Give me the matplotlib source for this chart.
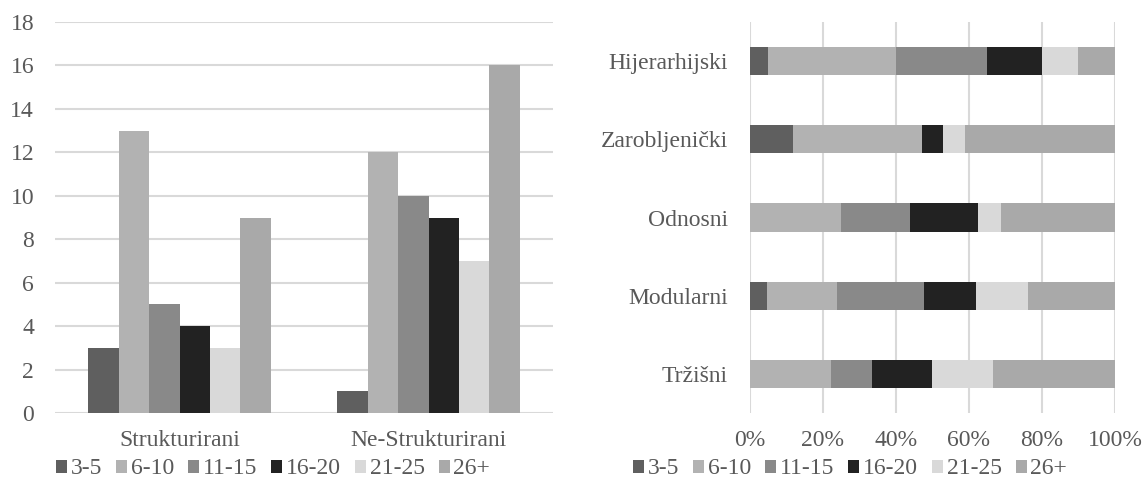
import matplotlib.pyplot as plt
import numpy as np
from matplotlib.patches import Patch

plt.rcParams['font.family'] = ['Liberation Serif', 'DejaVu Serif']

# age groups (series)
groups = ['3-5', '6-10', '11-15', '16-20', '21-25', '26+']
colors = ['#5f5f5f', '#b2b2b2', '#898989', '#222222', '#d9d9d9', '#a9a9a9']

# left chart: counts per group
types = ['Strukturirani', 'Ne-Strukturirani']
strukturirani = [3, 13, 5, 4, 3, 9]
ne_strukturirani = [1, 12, 10, 9, 7, 16]

# right chart: counts per organisation type, shown as shares
org_types = ['Hijerarhijski', 'Zarobljenički', 'Odnosni', 'Modularni', 'Tržišni']
hijerarhijski = [1, 7, 5, 3, 2, 2]
zarobljenicki = [2, 6, 0, 1, 1, 7]
odnosni = [0, 4, 3, 3, 1, 5]
modularni = [1, 4, 5, 3, 3, 5]
trzisni = [0, 4, 2, 3, 3, 6]

txt = '#595959'
grid = '#d9d9d9'
fs = 17

fig = plt.figure(figsize=(11.42, 5.01), dpi=100)

# --- clustered columns ---
ax1 = fig.add_axes([55/1142, 88/501, 498/1142, 391/501])
left_data = np.array([strukturirani, ne_strukturirani])
x = np.arange(len(types))
w = 0.122
for i, g in enumerate(groups):
    ax1.bar(x + (i - 2.5) * w, left_data[:, i], width=w, color=colors[i], zorder=2)
ax1.set_xlim(-0.5, 1.5)
ax1.set_ylim(0, 18)
ax1.set_yticks(range(0, 19, 2))
ax1.set_xticks(x)
ax1.set_xticklabels(types)
ax1.yaxis.grid(True, color=grid, linewidth=1.5, zorder=0)
ax1.set_axisbelow(True)
for s in ax1.spines.values():
    s.set_visible(False)
ax1.tick_params(axis='both', length=0, labelsize=fs, colors=txt)
ax1.tick_params(axis='y', pad=15)
ax1.tick_params(axis='x', pad=12)

# --- 100% stacked bars ---
ax2 = fig.add_axes([750/1142, 88/501, 365/1142, 391/501])
right_data = np.array([hijerarhijski, zarobljenicki, odnosni, modularni, trzisni], dtype=float)
shares = right_data / right_data.sum(axis=1, keepdims=True)
y = np.arange(len(org_types))
left = np.zeros(len(org_types))
for i, g in enumerate(groups):
    ax2.barh(y, shares[:, i], left=left, height=0.36, color=colors[i], zorder=2)
    left += shares[:, i]
ax2.set_xlim(0, 1)
ax2.set_ylim(4.5, -0.5)
ax2.set_xticks(np.linspace(0, 1, 6))
ax2.set_xticklabels(['0%', '20%', '40%', '60%', '80%', '100%'])
ax2.set_yticks(y)
ax2.set_yticklabels(org_types)
ax2.xaxis.grid(True, color=grid, linewidth=1.5, zorder=0)
ax2.set_axisbelow(True)
for s in ax2.spines.values():
    s.set_visible(False)
ax2.tick_params(axis='both', length=0, labelsize=fs, colors=txt)
ax2.tick_params(axis='y', pad=16)
ax2.tick_params(axis='x', pad=12)

# legends under each chart
handles = [Patch(facecolor=c, edgecolor='none') for c in colors]
for cx in (273/1142, 850/1142):
    fig.legend(handles, groups, loc='center', bbox_to_anchor=(cx, 1 - 469/501),
               ncol=6, frameon=False, fontsize=fs, labelcolor=txt,
               handlelength=0.47, handleheight=0.47, handletextpad=0.15,
               columnspacing=0.6, borderaxespad=0)

fig.savefig('out.png', dpi=100)
